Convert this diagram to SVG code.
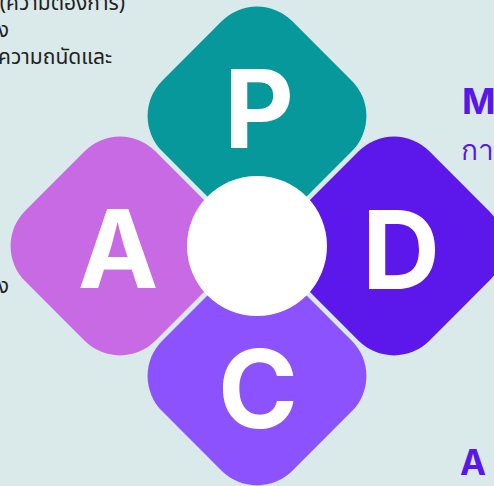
<svg xmlns="http://www.w3.org/2000/svg" width="494" height="486" viewBox="0 0 494 486">
<style>
.bg{fill:#dae9e9}
.ltr{font-family:Inter,"Liberation Sans",sans-serif;font-weight:700;font-size:108px;fill:#ffffff;text-anchor:middle}
.body{font-family:"Noto Sans","Noto Sans Thai","DejaVu Sans",sans-serif;font-size:21px;fill:#222222}
.head{font-family:Inter,"Noto Sans","DejaVu Sans",sans-serif;fill:#5b17e9}
</style>
<defs>
<rect id="petal" x="-92" y="-92" width="184" height="184" rx="50" ry="50" transform="rotate(45)"/>
</defs>
<rect class="bg" x="0" y="0" width="494" height="486"/>
<g id="text-left">
<text class="body" x="125" y="10" text-anchor="end">(ความต้องการ)</text>
<text class="body" x="9" y="37" text-anchor="end">ง</text>
<text class="body" x="112" y="64" text-anchor="end">ความถนัดและ</text>
<text class="body" x="9" y="293" text-anchor="end">ง</text>
</g>
<g id="text-right">
<text class="head" x="462" y="114" font-size="36" font-weight="700">M</text>
<text class="head" x="461" y="160" font-size="28">กา</text>
<text class="head" x="460" y="475" font-size="35" font-weight="700">A</text>
</g>
<g id="node-P">
<use href="#petal" transform="translate(257,116)" fill="#06989b"/>
<text class="ltr" x="259" y="148">P</text>
</g>
<g id="node-A">
<use href="#petal" transform="translate(120,246)" fill="#c96ae5"/>
<text class="ltr" x="118" y="288">A</text>
</g>
<g id="node-D">
<use href="#petal" transform="translate(394,246)" fill="#5c17ea"/>
<text class="ltr" x="401" y="289">D</text>
</g>
<g id="node-C">
<use href="#petal" transform="translate(257,376)" fill="#8c52fe"/>
<text class="ltr" x="258" y="428">C</text>
</g>
<g id="node-center">
<circle cx="257" cy="246" r="70" fill="#ffffff"/>
</g>
<g id="connectors"></g>
</svg>
